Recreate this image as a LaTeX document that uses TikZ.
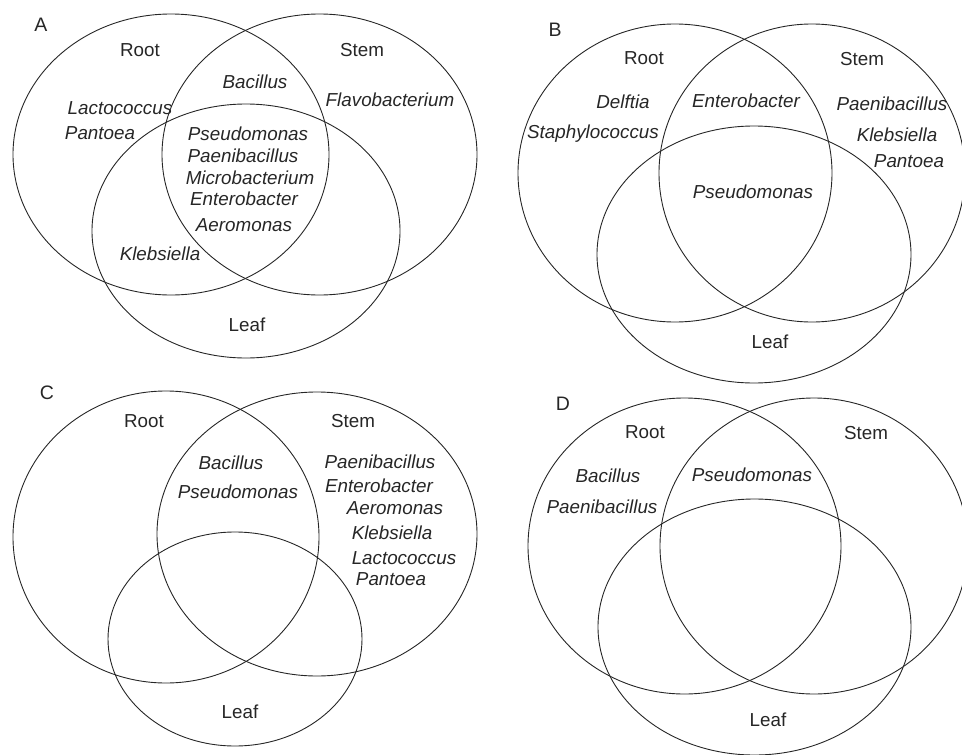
\documentclass[tikz,border=0pt]{standalone}
\usepackage{fontspec}
\setmainfont{Liberation Sans}
\usetikzlibrary{shapes.geometric}
\begin{document}
\begin{tikzpicture}[x=1pt,y=-1pt,
  setv/.style={draw=black!85,line width=0.9pt,ellipse,inner sep=0pt},
  lab/.style={font=\fontsize{18.8}{20}\selectfont,text=black!85,inner sep=0pt},
  gen/.style={lab,font=\fontsize{18.8}{20}\selectfont\itshape},
  panel/.style={lab,font=\fontsize{19.5}{20}\selectfont}]
\useasboundingbox (0,0) rectangle (962,755);
\clip (0,0) rectangle (962,755);
% ---------- A ----------
\node[setv,minimum width=316pt,minimum height=281pt] (Ar) at (171,154.5) {};
\node[setv,minimum width=315pt,minimum height=281pt] (As) at (319.5,154.5) {};
\node[setv,minimum width=308pt,minimum height=254pt] (Al) at (246,231) {};
\node[panel] (At) at (41,25) {A};
\node[lab] (Arl) at (140,50) {Root};
\node[lab] (Asl) at (362,50) {Stem};
\node[lab] (All) at (247,325) {Leaf};
\node[gen] (A1) at (255,82) {Bacillus};
\node[gen] (A2) at (390,100) {Flavobacterium};
\node[gen] (A3) at (120,108) {Lactococcus};
\node[gen] (A4) at (100,133) {Pantoea};
\node[gen] (A5) at (248,134) {Pseudomonas};
\node[gen] (A6) at (243,156) {Paenibacillus};
\node[gen] (A7) at (250,178) {Microbacterium};
\node[gen] (A8) at (244,199) {Enterobacter};
\node[gen] (A9) at (244,225) {Aeromonas};
\node[gen] (A10) at (160,254) {Klebsiella};
% ---------- B ----------
\node[setv,minimum width=314pt,minimum height=298pt] (Br) at (675,173) {};
\node[setv,minimum width=306pt,minimum height=298pt] (Bs) at (812,173) {};
\node[setv,minimum width=314pt,minimum height=257pt] (Bl) at (754,254.5) {};
\node[panel] (Bt) at (555,30) {B};
\node[lab] (Brl) at (644,58) {Root};
\node[lab] (Bsl) at (862,59) {Stem};
\node[lab] (Bll) at (770,342) {Leaf};
\node[gen] (B1) at (623,102) {Delftia};
\node[gen] (B2) at (593,134) {Staphylococcus};
\node[gen] (B3) at (746,101) {Enterobacter};
\node[gen] (B4) at (892,104) {Paenibacillus};
\node[gen] (B5) at (897,135) {Klebsiella};
\node[gen] (B6) at (909,161) {Pantoea};
\node[gen] (B7) at (753,192) {Pseudomonas};
% ---------- C ----------
\node[setv,minimum width=306pt,minimum height=292pt] (Cr) at (166,537) {};
\node[setv,minimum width=320pt,minimum height=284pt] (Cs) at (317,534) {};
\node[setv,minimum width=254pt,minimum height=214pt] (Cl) at (235,639) {};
\node[panel] (Ct) at (47,393) {C};
\node[lab] (Crl) at (144,421) {Root};
\node[lab] (Csl) at (353,421) {Stem};
\node[lab] (Cll) at (240,712) {Leaf};
\node[gen] (C1) at (231,463) {Bacillus};
\node[gen] (C2) at (238,492) {Pseudomonas};
\node[gen] (C3) at (380,462) {Paenibacillus};
\node[gen] (C4) at (379,486) {Enterobacter};
\node[gen] (C5) at (395,508) {Aeromonas};
\node[gen] (C6) at (392,533) {Klebsiella};
\node[gen] (C7) at (404,558) {Lactococcus};
\node[gen] (C8) at (391,579) {Pantoea};
% ---------- D ----------
\node[setv,minimum width=313pt,minimum height=296pt] (Dr) at (684.5,546) {};
\node[setv,minimum width=308pt,minimum height=296pt] (Ds) at (814,546) {};
\node[setv,minimum width=313pt,minimum height=256pt] (Dl) at (754.5,627) {};
\node[panel] (Dt) at (563,404) {D};
\node[lab] (Drl) at (645,432) {Root};
\node[lab] (Dsl) at (866,433) {Stem};
\node[lab] (Dll) at (768,720) {Leaf};
\node[gen] (D1) at (608,476) {Bacillus};
\node[gen] (D2) at (602,507) {Paenibacillus};
\node[gen] (D3) at (752,475) {Pseudomonas};
\end{tikzpicture}
\end{document}
